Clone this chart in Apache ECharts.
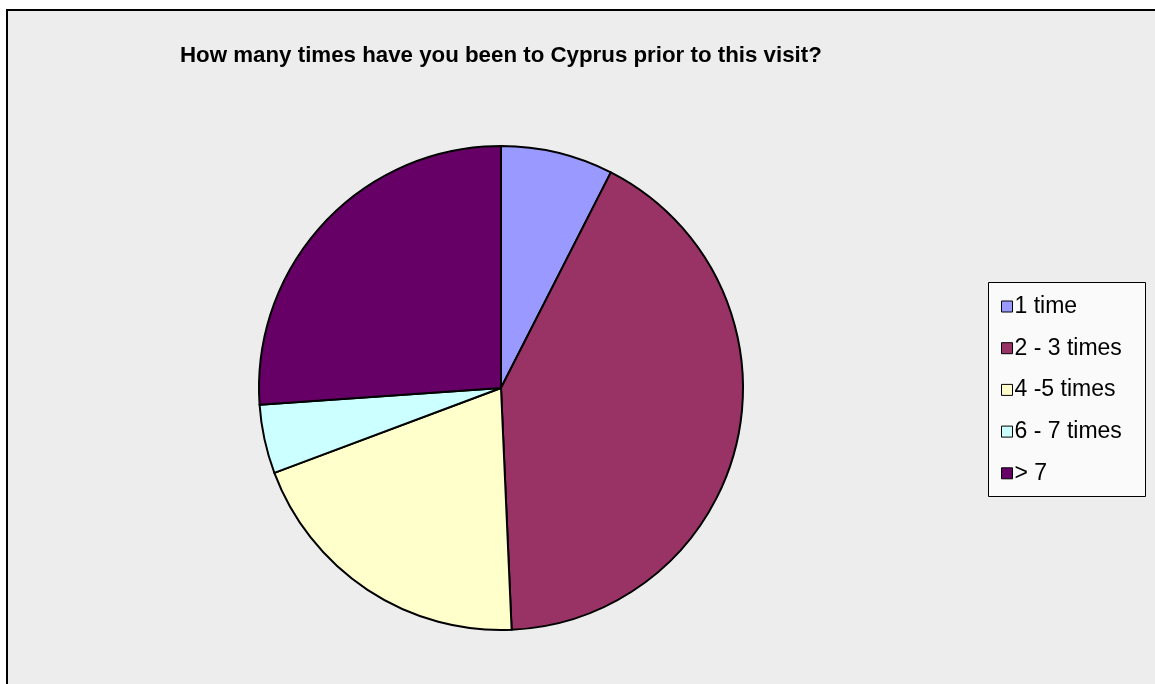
<!DOCTYPE html>
<html>
<head>
<meta charset="utf-8">
<script src="https://cdn.jsdelivr.net/npm/echarts@6/dist/echarts.min.js"></script>
<style>
  html, body { margin: 0; padding: 0; background: #ffffff; }
  #chart { width: 1155px; height: 684px; }
</style>
</head>
<body>
<div id="chart"></div>
<script>
// Survey answers: visits to Cyprus before the current one (share of respondents, %)
const categories = ['1 time', '2 - 3 times', '4 -5 times', '6 - 7 times', '> 7'];
const shares = [7.5, 41.8, 20.0, 4.6, 26.1];
const colors = ['#9999FF', '#993366', '#FFFFCC', '#CCFFFF', '#660066'];
const titleText = 'How many times have you been to Cyprus prior to this visit?';

const chart = echarts.init(document.getElementById('chart'), null, { renderer: 'canvas' });

chart.setOption({
  backgroundColor: '#ffffff',
  animation: false,
  graphic: [
    {
      // chart area frame
      type: 'rect',
      z: -10,
      shape: { x: 7, y: 10, width: 1160, height: 690 },
      style: { fill: '#EDEDED', stroke: '#000000', lineWidth: 2 }
    },
    {
      // legend box
      type: 'rect',
      z: -5,
      shape: { x: 988.5, y: 282.5, width: 157, height: 214 },
      style: { fill: '#FAFAFA', stroke: '#000000', lineWidth: 1 }
    }
  ],
  title: {
    text: titleText,
    left: 175,
    top: 40,
    textStyle: {
      fontFamily: 'Liberation Sans, Arial, sans-serif',
      fontWeight: 'bold',
      fontSize: 22.3,
      color: '#000000'
    }
  },
  legend: {
    orient: 'vertical',
    left: 988,
    top: 282,
    padding: [13, 10, 12, 13],
    itemGap: 18.7,
    itemWidth: 11,
    itemHeight: 11,
    icon: 'rect',
    itemStyle: { borderColor: '#000000', borderWidth: 1 },
    textStyle: {
      fontFamily: 'Liberation Sans, Arial, sans-serif',
      fontSize: 23,
      lineHeight: 23,
      color: '#000000',
      padding: [0, 0, 0, -3]
    },
    data: categories
  },
  series: [
    {
      type: 'pie',
      center: [501, 388],
      radius: [0, 242],
      startAngle: 90,
      clockwise: true,
      label: { show: false },
      labelLine: { show: false },
      emphasis: { disabled: true },
      itemStyle: { borderColor: '#000000', borderWidth: 2 },
      data: categories.map((name, i) => ({
        name: name,
        value: shares[i],
        itemStyle: { color: colors[i] }
      }))
    }
  ]
});
</script>
</body>
</html>
